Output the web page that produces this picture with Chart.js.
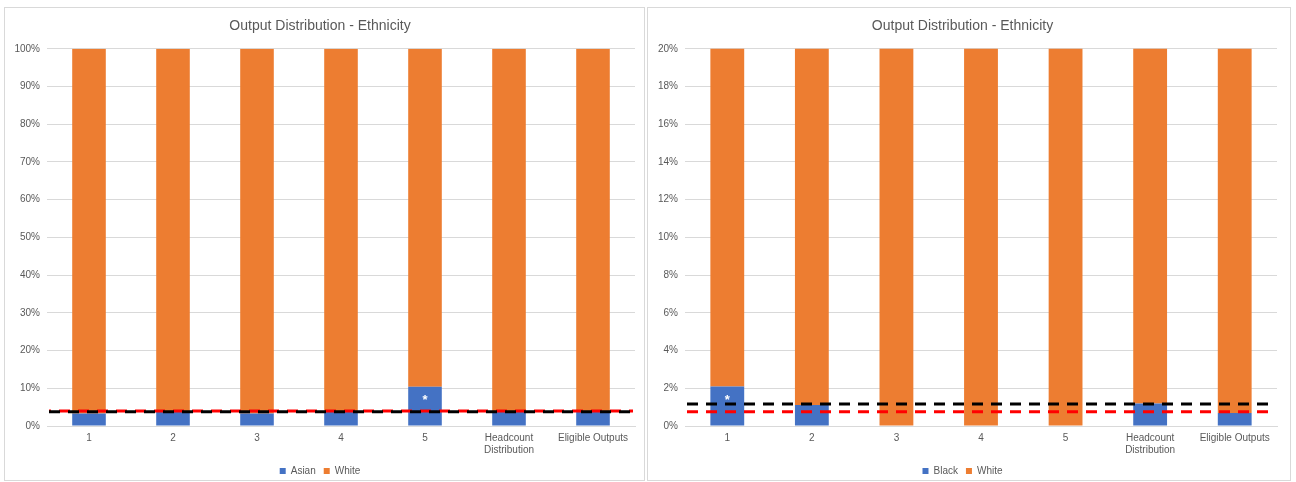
<!DOCTYPE html>
<html>
<head>
<meta charset="utf-8">
<script src="https://cdn.jsdelivr.net/npm/chart.js@4"></script>
<style>
  body { margin: 0; background: #fff; width: 1296px; height: 482px; position: relative; overflow: hidden; }
  .panel { position: absolute; border: 1px solid #d9d9d9; box-sizing: border-box; }
  .panel div { position: absolute; left: 0; top: 0; right: 0; bottom: -6px; }
</style>
</head>
<body>
<div class="panel" style="left:4px; top:7px; width:641px; height:474px;"><div><canvas id="left"></canvas></div></div>
<div class="panel" style="left:647px; top:7px; width:644px; height:474px;"><div><canvas id="right"></canvas></div></div>
<script>
const categories = ['1', '2', '3', '4', '5', ['Headcount', 'Distribution'], 'Eligible Outputs'];

// left chart - Asian / White (%)
const asianValues = [3.3, 3.8, 3.3, 3.8, 10.4, 3.8, 3.8];
const whiteValuesLeft = [96.7, 96.2, 96.7, 96.2, 89.6, 96.2, 96.2];
const leftRedLine = 4.0;
const leftBlackLine = 3.75;
const leftStars = ['', '', '', '', '*', '', ''];

// right chart - Black / White (%)
const blackValues = [2.09, 1.12, 0, 0, 0, 1.19, 0.69];
const whiteValuesRight = [97.91, 98.88, 100, 100, 100, 98.81, 99.31];
const rightBlackLine = 1.17;
const rightRedLine = 0.76;
const rightStars = ['*', '', '', '', '', '', ''];

const BLUE = '#4472C4';
const ORANGE = '#ED7D31';
const GREY = '#595959';
const FONT = "'Liberation Sans', Arial, sans-serif";

Chart.defaults.font.family = FONT;
Chart.defaults.color = GREY;

// dashed reference lines across the plot
const refLines = {
    id: 'refLines',
    afterDatasetsDraw(chart, args, opts) {
        const { ctx, chartArea } = chart;
        const y = chart.scales.y;
        (opts.lines || []).forEach(l => {
            const py = y.getPixelForValue(l.value);
            ctx.save();
            ctx.beginPath();
            ctx.setLineDash([11, 8]);
            ctx.lineDashOffset = l.offset || 0;
            ctx.lineWidth = 3;
            ctx.strokeStyle = l.color;
            ctx.moveTo(chartArea.left + 2, py);
            ctx.lineTo(chartArea.right - 2, py);
            ctx.stroke();
            ctx.restore();
        });
    }
};

// white asterisk inside the first segment
const stars = {
    id: 'stars',
    afterDatasetsDraw(chart, args, opts) {
        const { ctx } = chart;
        const meta = chart.getDatasetMeta(0);
        (opts.marks || []).forEach((m, i) => {
            if (!m) return;
            const el = meta.data[i];
            ctx.save();
            ctx.fillStyle = '#fff';
            ctx.font = 'bold 13px ' + FONT;
            ctx.textAlign = 'center';
            ctx.textBaseline = 'middle';
            ctx.fillText(m, el.x, el.y + 14);
            ctx.restore();
        });
    }
};

function makeChart(id, lowLabel, lowValues, whiteValues, max, step, lines, marks, yWidth, padRight) {
    return new Chart(document.getElementById(id), {
        type: 'bar',
        data: {
            labels: categories,
            datasets: [
                { label: lowLabel, data: lowValues, backgroundColor: BLUE, barPercentage: 0.4, categoryPercentage: 1 },
                { label: 'White', data: whiteValues, backgroundColor: ORANGE, barPercentage: 0.4, categoryPercentage: 1 }
            ]
        },
        options: {
            responsive: true,
            maintainAspectRatio: false,
            animation: false,
            layout: { padding: { left: 0, right: padRight, top: 0, bottom: 0 } },
            scales: {
                x: {
                    stacked: true,
                    grid: { display: false, drawTicks: false },
                    border: { color: '#d9d9d9' },
                    ticks: { font: { size: 10 }, color: GREY, maxRotation: 0, autoSkip: false, padding: 6 },
                    afterFit: s => { s.height = 32; }
                },
                y: {
                    stacked: true,
                    min: 0,
                    max: max,
                    border: { display: false },
                    grid: { color: '#d9d9d9', drawTicks: false },
                    ticks: { stepSize: step, font: { size: 10 }, color: GREY, padding: 7, callback: v => v + '%' },
                    afterFit: s => { s.width = yWidth; }
                }
            },
            plugins: {
                title: {
                    display: true,
                    text: 'Output Distribution - Ethnicity',
                    color: GREY,
                    font: { size: 14, weight: 'normal' },
                    padding: { top: 10, bottom: 14 }
                },
                legend: {
                    position: 'bottom',
                    labels: { boxWidth: 6, boxHeight: 6, font: { size: 10 }, color: GREY, padding: 8 }
                },
                tooltip: { enabled: false },
                refLines: { lines: lines },
                stars: { marks: marks }
            }
        },
        plugins: [refLines, stars]
    });
}

makeChart('left', 'Asian', asianValues, whiteValuesLeft, 100, 10,
    [{ value: leftRedLine, color: '#ff0000', offset: 9 }, { value: leftBlackLine, color: '#000000', offset: 0 }],
    leftStars, 42, 9);

makeChart('right', 'Black', blackValues, whiteValuesRight, 20, 2,
    [{ value: rightBlackLine, color: '#000000', offset: 0 }, { value: rightRedLine, color: '#ff0000', offset: 0 }],
    rightStars, 37, 13);
</script>
</body>
</html>
